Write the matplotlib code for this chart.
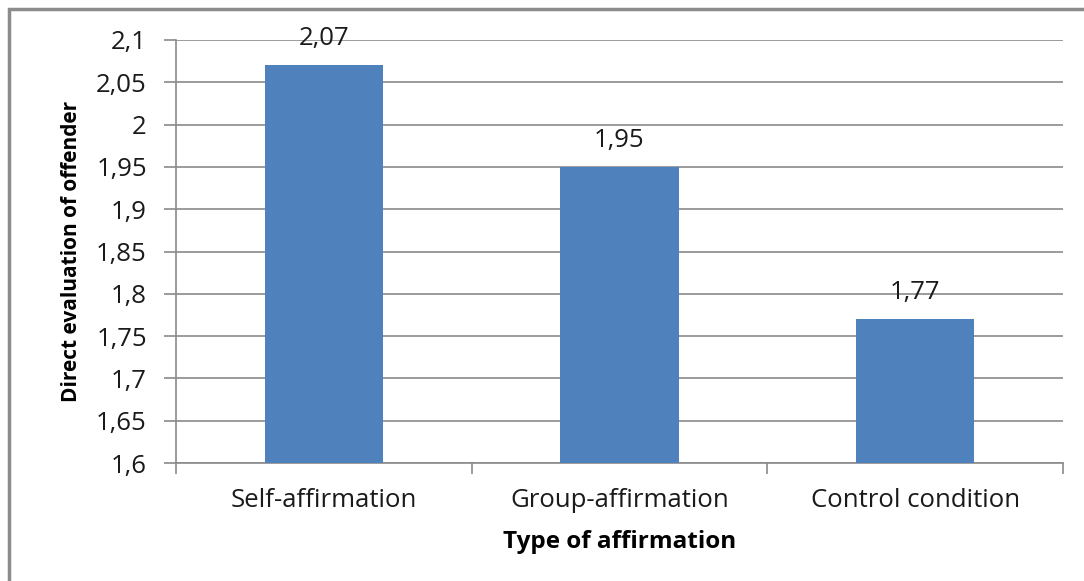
import matplotlib.pyplot as plt
from matplotlib.patches import Rectangle
import numpy as np

categories = ["Self-affirmation", "Group-affirmation", "Control condition"]
values = [2.07, 1.95, 1.77]
y_ticks = [1.6, 1.65, 1.7, 1.75, 1.8, 1.85, 1.9, 1.95, 2.0, 2.05, 2.1]

plt.rcParams['font.family'] = ['Open Sans', 'DejaVu Sans']

fig = plt.figure(figsize=(10.84, 5.81), dpi=100)
ax = fig.add_axes([176 / 1084, 1 - 463 / 581, (1063 - 176) / 1084, (463 - 40) / 581])

# outer chart frame (left and top edges visible)
fig.patches.append(Rectangle((9 / 1084, -0.1), 1.2, 1 - 9 / 581 + 0.1,
                             transform=fig.transFigure, fill=False,
                             edgecolor='#8c8c8c', linewidth=2.5))

x = np.arange(len(categories))
ax.bar(x, values, width=0.4, color='#4F81BD', zorder=3)
ax.set_xlim(-0.5, len(categories) - 0.5)
ax.set_ylim(1.6, 2.1)

ax.set_yticks(y_ticks)
ax.set_yticklabels([("%g" % v).replace('.', ',') for v in y_ticks])
ax.yaxis.grid(True, color='#8a8a8a', linewidth=1.2, zorder=0)

ax.set_xticks(np.arange(-0.5, len(categories)), minor=False)
ax.set_xticklabels([])
ax.set_xticks(x, minor=True)
ax.set_xticklabels(categories, minor=True)
ax.tick_params(axis='x', which='minor', length=0, pad=18, labelsize=18.5, labelcolor='#1a1a1a')
ax.tick_params(axis='x', which='major', length=8, color='#8a8a8a', width=1.2)
ax.tick_params(axis='y', length=9, color='#8a8a8a', width=1.2, labelsize=18.5, labelcolor='#1a1a1a', pad=12)

for s in ['top', 'right']:
    ax.spines[s].set_visible(False)
for s in ['left', 'bottom']:
    ax.spines[s].set_color('#8a8a8a')
    ax.spines[s].set_linewidth(1.2)

for xi, v in zip(x, values):
    ax.annotate(("%.2f" % v).replace('.', ','), (xi, v), xytext=(0, 10),
                textcoords='offset points', ha='center', va='bottom',
                fontsize=18.5, color='#1a1a1a')

ax.set_xlabel("Type of affirmation", fontsize=17.5, fontweight='bold', labelpad=12)
ax.set_ylabel("Direct evaluation of offender", fontsize=15, fontweight='bold', labelpad=10)

fig.savefig("out.png", dpi=100)
